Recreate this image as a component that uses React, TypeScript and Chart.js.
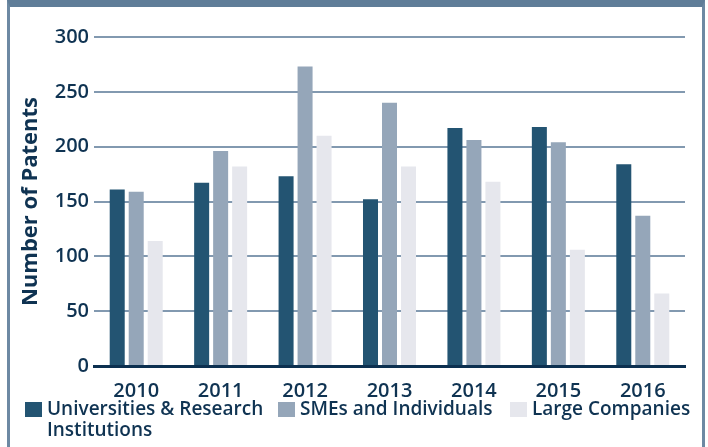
import React, { useEffect, useRef } from "react";
import { Chart, registerables } from "chart.js";

Chart.register(...registerables);

const years = ["2010", "2011", "2012", "2013", "2014", "2015", "2016"];
const universities = [161, 167, 173, 152, 217, 218, 184];
const smes = [159, 196, 273, 240, 206, 204, 137];
const largeCompanies = [114, 182, 210, 182, 168, 106, 66];
const seriesNames = ["Universities & Research Institutions", "SMEs and Individuals", "Large Companies"];
const seriesColors = ["#235472", "#95a6b9", "#e6e7ed"];
const yTicks = [0, 50, 100, 150, 200, 250, 300];

const FONT = "'Open Sans', Lato, sans-serif";
const TEXT = "#0f3352";
const legendLefts = [25, 278, 510];

export default function App() {
  const ref = useRef<HTMLCanvasElement | null>(null);

  useEffect(() => {
    if (!ref.current) return;
    const chart = new Chart(ref.current, {
      type: "bar",
      data: {
        labels: years,
        datasets: [universities, smes, largeCompanies].map((d, i) => ({
          label: seriesNames[i],
          data: d,
          backgroundColor: seriesColors[i],
          borderWidth: 0,
          categoryPercentage: 0.675,
          barPercentage: 0.79,
        })),
      },
      options: {
        responsive: false,
        animation: false,
        devicePixelRatio: 1,
        layout: { padding: { left: 0, top: 37, right: 23, bottom: 0 } },
        plugins: { legend: { display: false }, tooltip: { enabled: false } },
        scales: {
          x: {
            afterFit: (s: any) => { s.height = 81; },
            grid: { display: false },
            border: { display: true, color: "#0c3050", width: 3 },
            ticks: { color: TEXT, font: { family: FONT, size: 20, weight: "600" }, padding: 5 },
          },
          y: {
            min: 0,
            max: 300,
            afterFit: (s: any) => { s.width = 94; },
            afterBuildTicks: (s: any) => { s.ticks = yTicks.map((v) => ({ value: v })); },
            border: { display: false },
            grid: {
              drawTicks: false,
              lineWidth: 2,
              color: (c: any) => (c.tick && c.tick.value === 0 ? "rgba(0,0,0,0)" : "#8299b0"),
            },
            ticks: { color: TEXT, font: { family: FONT, size: 20, weight: "600" }, padding: 5 },
            title: {
              display: true,
              text: "Number of Patents",
              color: TEXT,
              font: { family: FONT, size: 22, weight: "bold" },
              padding: { top: 18, bottom: 0 },
            },
          },
        },
      },
    });
    return () => chart.destroy();
  }, []);

  const legendText: React.CSSProperties = {
    fontFamily: FONT,
    fontWeight: 600,
    fontSize: 19,
    color: TEXT,
    lineHeight: "21px",
  };

  return (
    <div style={{ position: "fixed", left: 0, top: 0, width: 708, height: 447, background: "#fff", overflow: "hidden" }}>
      <canvas ref={ref} width={708} height={447} style={{ position: "absolute", left: 0, top: 0 }} />
      <div
        style={{
          position: "absolute",
          left: 7,
          top: 0,
          width: 692,
          height: 447,
          borderTop: "7px solid #5f7d98",
          borderLeft: "3px solid #6d89a3",
          borderRight: "3px solid #6d89a3",
          pointerEvents: "none",
        }}
      />
      {seriesNames.map((n, i) => (
        <div key={n} style={{ position: "absolute", left: legendLefts[i], top: 398, display: "flex", alignItems: "flex-start" }}>
          <div style={{ width: 17, height: 15, background: seriesColors[i], marginTop: 4, marginRight: 5, flex: "none" }} />
          <div style={{ ...legendText, width: i === 0 ? 222 : "auto", whiteSpace: i === 0 ? "normal" : "nowrap" }}>{n}</div>
        </div>
      ))}
    </div>
  );
}
